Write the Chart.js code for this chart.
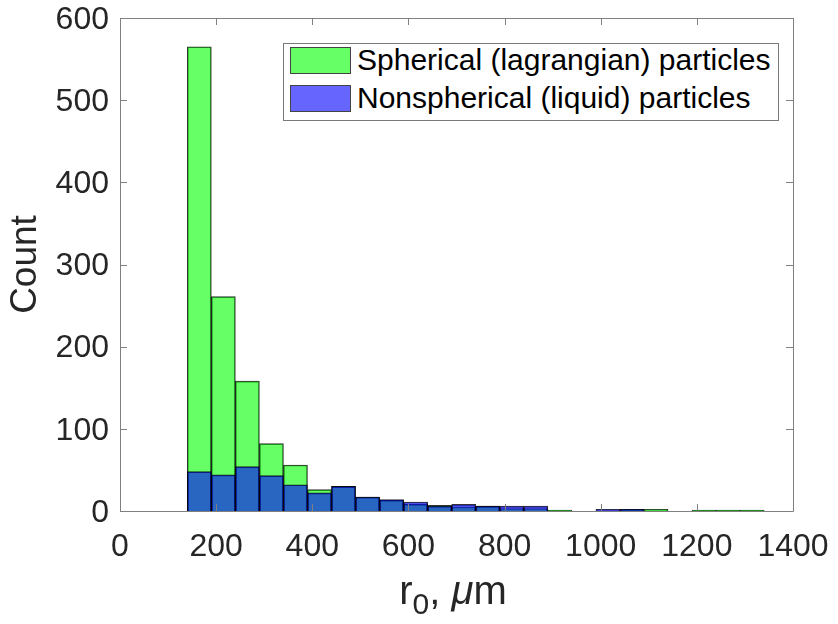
<!DOCTYPE html>
<html>
<head>
<meta charset="utf-8">
<script src="https://cdn.jsdelivr.net/npm/chart.js@4"></script>
<style>
  body { margin: 0; background: #fff; }
  #wrap { position: relative; width: 838px; height: 624px; font-family: "Liberation Sans", Arial, sans-serif; }
  #legend { position: absolute; left: 283px; top: 43px; width: 494px; height: 76px; border: 1px solid #7a7a7a; background: #fff; }
  .row { position: absolute; left: 6px; height: 28px; display: flex; align-items: center; }
  .sw { width: 61px; height: 27px; border: 1px solid #444; box-sizing: border-box; }
  .txt { margin-left: 6px; font-size: 30px; color: #000; white-space: nowrap; }
  #xtitle { position: absolute; left: 0; width: 906px; top: 568px; text-align: center; font-size: 40px; color: #262626; white-space: nowrap; }
  #xtitle sub { font-size: 30px; vertical-align: -10px; }
</style>
</head>
<body>
<div id="wrap">
  <canvas id="histChart" width="838" height="624"></canvas>
  <div id="legend">
    <div class="row" style="top: 2px;"><div class="sw" style="background: rgba(0,255,0,0.6);"></div><div class="txt">Spherical (lagrangian) particles</div></div>
    <div class="row" style="top: 40px;"><div class="sw" style="background: rgba(0,0,255,0.6);"></div><div class="txt">Nonspherical (liquid) particles</div></div>
  </div>
  <div id="xtitle">r<sub>0</sub>, <i>μ</i>m</div>
</div>
<script>
"use strict";
// bin centres (bins 50 wide, from 140 to 1340)
const binCenters = [165, 215, 265, 315, 365, 415, 465, 515, 565, 615, 665, 715,
                    765, 815, 865, 915, 965, 1015, 1065, 1115, 1165, 1215, 1265, 1315];
const sphericalCounts = [565, 261, 158, 82, 56, 26, 30, 17, 13, 8, 7, 5,
                         6, 3, 3, 1, 0, 0, 2, 2, 0, 1, 1, 1];
const nonsphericalCounts = [48, 44, 54, 43, 32, 22, 30, 17, 14, 11, 6, 8,
                            6, 6, 6, 0, 0, 2, 2, 0, 0, 0, 0, 0];
const xTicks = [0, 200, 400, 600, 800, 1000, 1200, 1400];
const yTicks = [0, 100, 200, 300, 400, 500, 600];

Chart.defaults.font.family = '"Liberation Sans", Arial, sans-serif';

const boxAndTicks = {
    id: 'boxAndTicks',
    afterDatasetsDraw(chart) {
        const { ctx, chartArea: a, scales } = chart;
        const len = 7;
        ctx.save();
        ctx.strokeStyle = '#808080';
        ctx.lineWidth = 1;
        ctx.beginPath();
        ctx.rect(Math.round(a.left) + 0.5, Math.round(a.top) + 0.5,
                 Math.round(a.right - a.left), Math.round(a.bottom - a.top));
        xTicks.forEach(v => {
            const px = Math.round(scales.x.getPixelForValue(v)) + 0.5;
            ctx.moveTo(px, a.bottom); ctx.lineTo(px, a.bottom - len);
            ctx.moveTo(px, a.top); ctx.lineTo(px, a.top + len);
        });
        yTicks.forEach(v => {
            const py = Math.round(scales.y.getPixelForValue(v)) + 0.5;
            ctx.moveTo(a.left, py); ctx.lineTo(a.left + len, py);
            ctx.moveTo(a.right, py); ctx.lineTo(a.right - len, py);
        });
        ctx.stroke();
        ctx.restore();
    }
};

function toPoints(counts) {
    return counts.map((c, i) => ({ x: binCenters[i], y: c }));
}

new Chart(document.getElementById('histChart').getContext('2d'), {
    type: 'bar',
    data: {
        datasets: [{
            label: 'Spherical (lagrangian) particles',
            data: toPoints(sphericalCounts),
            backgroundColor: 'rgba(0,255,0,0.6)',
            borderColor: 'rgba(0,0,0,0.8)',
            borderWidth: 1,
            grouped: false,
            barPercentage: 1,
            categoryPercentage: 1,
            order: 1
        }, {
            label: 'Nonspherical (liquid) particles',
            data: toPoints(nonsphericalCounts),
            backgroundColor: 'rgba(0,0,255,0.6)',
            borderColor: 'rgba(0,0,0,0.8)',
            borderWidth: 1,
            grouped: false,
            barPercentage: 1,
            categoryPercentage: 1,
            order: 0
        }]
    },
    options: {
        responsive: false,
        animation: false,
        layout: { padding: { top: 18, right: 45, left: 0, bottom: 0 } },
        plugins: { legend: { display: false }, tooltip: { enabled: false } },
        scales: {
            x: {
                type: 'linear', min: 0, max: 1400, offset: false,
                grid: { display: false, drawTicks: false },
                border: { display: false },
                ticks: { stepSize: 200, padding: 17, maxRotation: 0, autoSkip: false,
                         color: '#262626', font: { size: 32 }, callback: v => String(v) },
                afterFit: s => { s.height = 113; s.paddingLeft = 0; s.paddingRight = 0; }
            },
            y: {
                min: 0, max: 600,
                grid: { display: false, drawTicks: false },
                border: { display: false },
                ticks: { stepSize: 100, padding: 11, labelOffset: 2,
                         color: '#262626', font: { size: 32 }, callback: v => String(v) },
                title: { display: true, text: 'Count', color: '#262626',
                         font: { size: 37 }, padding: { top: 4, bottom: 0 } },
                afterFit: s => { s.width = 120; s.paddingTop = 0; s.paddingBottom = 0; }
            }
        }
    },
    plugins: [boxAndTicks]
});
</script>
</body>
</html>
